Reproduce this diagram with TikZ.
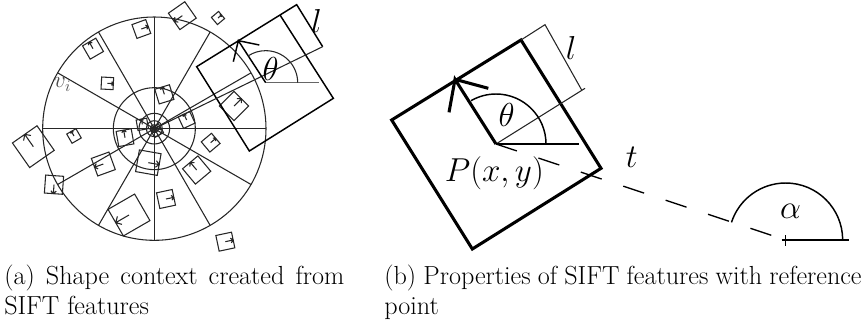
\documentclass[tikz,border=0pt]{standalone}
\usepackage{amsmath,amssymb}
\usepackage{tikz}
\usetikzlibrary{calc}

\begin{document}
\begin{tikzpicture}[
    x=0.25pt, y=-0.25pt,
    thinline/.style={line width=0.8pt, black!85},
    keybox/.style={line width=0.8pt, black!85},
    boldline/.style={line width=2.3pt},
    midline/.style={line width=1.1pt},
    dashline/.style={line width=1pt, dash pattern=on 16.5pt off 17pt},
    mathlabel/.style={font=\fontsize{26}{30}\selectfont, inner sep=0pt},
    biglabel/.style={font=\fontsize{31}{34}\selectfont, inner sep=0pt},
    smalllabel/.style={font=\fontsize{23}{26}\selectfont, inner sep=0pt},
    caption/.style={font=\fontsize{19.6}{22}\selectfont, align=justify, inner sep=0pt, anchor=north west}
]
\useasboundingbox (0,0) rectangle (2598,963);

% Polar grid
\coordinate (hub) at (463,386);
\foreach \rad in {335,123,46,24,12}
    \draw[thinline] (hub) circle (\rad);
\foreach \ang in {0,30,...,330}
    \draw[thinline] (hub) -- +(\ang:335);

% Keypoint boxes
\foreach \cx/\cy/\hs/\ang in {
    547/47/30/215, 654/54/14/40, 424/87/22/20, 279/146/23/120, 322/250/18/-3,
    493/283/23/107, 427/373/16/100, 560/360/19/115, 702/318/31/45, 632/428/20/40,
    590/510/30/130, 445/488/33/-10, 375/413/23/100, 310/492/28/200, 222/408/16/120,
    100/440/45/125, 162/554/27/266, 387/645/46/210, 498/597/24/12, 676/725/24/12,
    470/392/15/30, 463/388/6/60}
{
    \draw[keybox, shift={(\cx,\cy)}, rotate=\ang]
        (-\hs,-\hs) rectangle (\hs,\hs)
        (0,0) -- (\hs,0)
        ++(-0.3*\hs,-0.3*\hs) -- (\hs,0) -- ++(-0.3*\hs,0.3*\hs);
}

% Large box on the left
\coordinate (pa) at (797,248);
\coordinate (pb) at (590,200);
\coordinate (pc) at (840,45);
\coordinate (pd) at (1000,295);
\coordinate (pe) at (748,453);
\coordinate (pf) at (890,14);
\coordinate (pg) at (968,140);
\coordinate (ph) at (715,122);
\draw[midline] (pc) -- (pd) -- (pe) -- (pb) -- (pf) -- (pg);
\draw[thinline] (hub) -- (pg);
\draw[midline] (pa) -- (ph) -- (700,185) (ph) -- (778,135);
\draw[midline, black!60] (pa) -- (957,248);
\draw[thinline] (893,248) arc (0:-123:96);
\node[smalllabel] (thetaa) at (812,206) {$\theta$};
\node[smalllabel] (la) at (950,62) {$l$};
\node[inner sep=0pt, font=\fontsize{18}{21}\selectfont, black!70] (vi) at (188,254) {$v_i$};

% Single feature
\begin{scope}[shift={(1110,60)}]
\coordinate (p) at (378,372);
\coordinate (qa) at (65,300);
\coordinate (qb) at (453,60);
\coordinate (qc) at (693,445);
\coordinate (qd) at (307,687);
\coordinate (qe) at (525,14);
\coordinate (qf) at (635,210);
\coordinate (tip) at (255,178);
\coordinate (base) at (1247,660);
\draw[boldline] (qa) -- (qb) -- (qc) -- (qd) -- cycle;
\draw[thinline] (qb) -- (qe) -- (qf);
\draw[thinline] (p) -- (645,205);
\draw[boldline] (p) -- (tip) -- (237,277) (tip) -- (355,205);
\draw[midline] (p) -- (627,372);
\draw[midline] (528,372) arc (0:-120:150);
\draw[dashline] (p) -- (base);
\draw[midline] (1235,660) -- (1437,660);
\draw[midline] (1247,645) -- (1247,677);
\draw[midline] (1418,660) arc (0:-162:171);
\node[biglabel] (theta) at (410,285) {$\theta$};
\node[biglabel] (lb) at (603,85) {$l$};
\node[mathlabel] (pos) at (373,460) {$P(x,y)$};
\node[biglabel] (dist) at (785,412) {$t$};
\node[mathlabel] (alpha) at (1262,575) {$\alpha$};
\end{scope}

% Captions
\node[caption, text width=255pt] (capa) at (12,795) {(a) Shape context created from SIFT features};
\node[caption, text width=358pt] (capb) at (1152,795) {(b) Properties of SIFT features with reference point};
\end{tikzpicture}
\end{document}
